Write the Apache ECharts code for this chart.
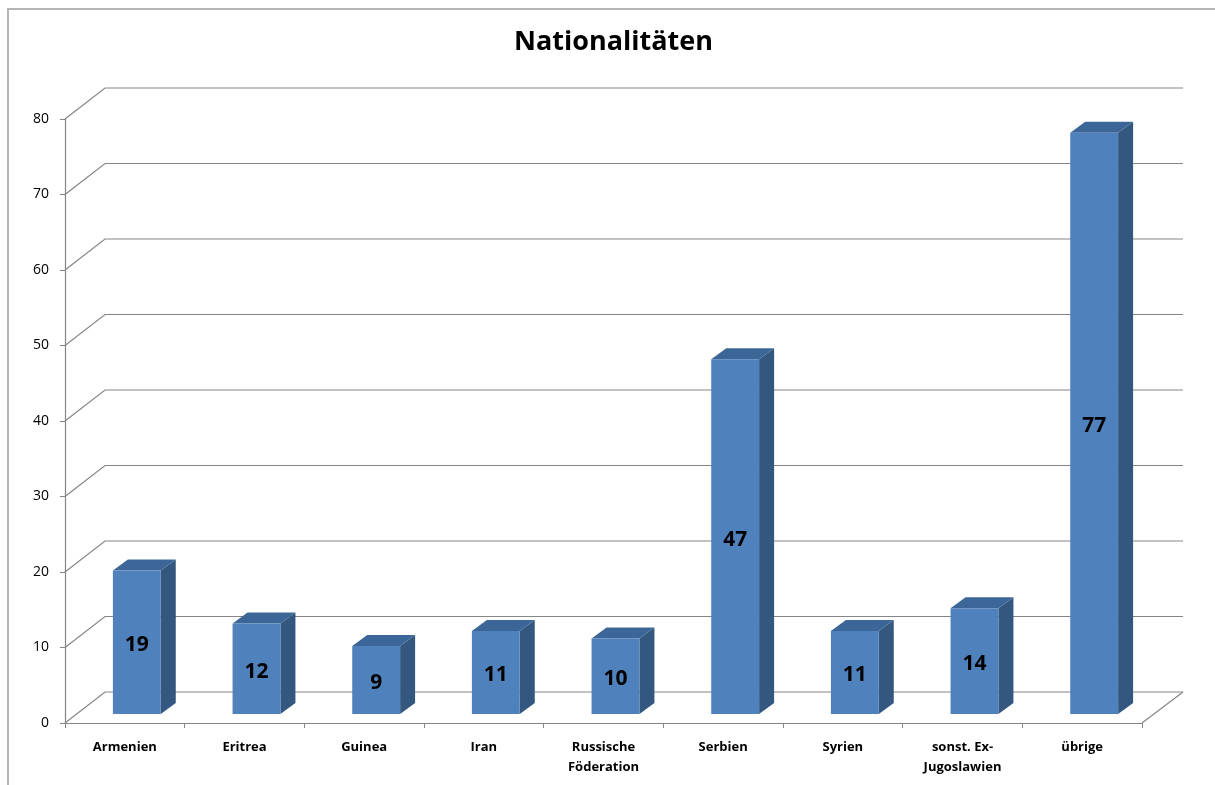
<!DOCTYPE html>
<html>
<head>
<meta charset="utf-8">
<script src="https://cdn.jsdelivr.net/npm/echarts@6/dist/echarts.min.js"></script>
<style>html,body{margin:0;padding:0;background:#fff}#chart{width:1215px;height:785px}</style>
</head>
<body>
<div id="chart"></div>
<script>
const categories = ['Armenien', 'Eritrea', 'Guinea', 'Iran', 'Russische\nFöderation', 'Serbien', 'Syrien', 'sonst. Ex-\nJugoslawien', 'übrige'];
const values = [19, 12, 9, 11, 10, 47, 11, 14, 77];
const yTicks = [0, 10, 20, 30, 40, 50, 60, 70, 80];

const FONT = '"Open Sans", "Liberation Sans", sans-serif';
// 3D projection offsets (pixels)
const WALL_DX = 40, WALL_DY = -31;
const BAR_OFF_DX = 12, BAR_OFF_DY = -9;
const BAR_DEP_DX = 15, BAR_DEP_DY = -11;
const GRID_COLOR = '#858585';

const chart = echarts.init(document.getElementById('chart'));

function renderGrid(params, api) {
  const v = api.value(0);
  const cs = params.coordSys;
  const p = api.coord([0, v]);
  const y = p[1];
  const x0 = cs.x, x1 = cs.x + cs.width;
  const children = [{
    type: 'polyline',
    shape: { points: [[x0, y], [x0 + WALL_DX, y + WALL_DY], [x1 + WALL_DX + 1, y + WALL_DY]] },
    style: { stroke: GRID_COLOR, lineWidth: 1.2, fill: null }
  }];
  if (v === 0) {
    children.push({
      type: 'line',
      shape: { x1: x1, y1: y, x2: x1 + WALL_DX + 1, y2: y + WALL_DY },
      style: { stroke: GRID_COLOR, lineWidth: 1.2 }
    });
  }
  return { type: 'group', children: children };
}

function renderBar(params, api) {
  const idx = api.value(0);
  const v = api.value(1);
  const base = api.coord([idx, 0]);
  const top = api.coord([idx, v]);
  const bandW = api.size([1, 0])[0];
  const w = bandW * 0.4;
  const xa = base[0] - w / 2 + BAR_OFF_DX;
  const xb = xa + w;
  const yt = top[1] + BAR_OFF_DY;
  const yb = base[1] + BAR_OFF_DY;
  return {
    type: 'group',
    children: [
      { type: 'polygon', shape: { points: [[xb, yt], [xb + BAR_DEP_DX, yt + BAR_DEP_DY], [xb + BAR_DEP_DX, yb + BAR_DEP_DY], [xb, yb]] },
        style: { fill: '#34577F' } },
      { type: 'polygon', shape: { points: [[xa, yt], [xb, yt], [xb + BAR_DEP_DX, yt + BAR_DEP_DY], [xa + BAR_DEP_DX, yt + BAR_DEP_DY]] },
        style: { fill: '#3C6698' } },
      { type: 'rect', shape: { x: xa, y: yt, width: w, height: yb - yt },
        style: { fill: '#4F81BD' } },
      { type: 'text', x: (xa + xb) / 2, y: (yt + yb) / 2 + 3,
        style: { text: String(v), fill: '#000', font: 'bold 21px ' + FONT, align: 'center', verticalAlign: 'middle' } }
    ]
  };
}

chart.setOption({
  animation: false,
  backgroundColor: '#fff',
  title: {
    text: 'Nationalitäten',
    left: 509,
    top: 24,
    textStyle: { fontFamily: FONT, fontWeight: 'bold', fontSize: 27, color: '#000' }
  },
  graphic: [{
    type: 'rect',
    shape: { x: 8, y: 9, width: 1240, height: 820 },
    style: { fill: null, stroke: '#B4B4B4', lineWidth: 2 },
    z: -1
  }],
  grid: { left: 65, right: 73, top: 119, bottom: 62 },
  xAxis: {
    type: 'category',
    data: categories,
    axisLine: { lineStyle: { color: GRID_COLOR, width: 1.2 } },
    axisTick: { show: true, length: 5, lineStyle: { color: GRID_COLOR } },
    axisLabel: { fontFamily: FONT, fontWeight: 'bold', fontSize: 13, color: '#000', margin: 14, lineHeight: 20, interval: 0 }
  },
  yAxis: {
    type: 'value',
    min: 0, max: 80, interval: 10,
    axisLine: { show: true, lineStyle: { color: GRID_COLOR, width: 1.2 } },
    axisTick: { show: true, length: 5, lineStyle: { color: GRID_COLOR } },
    splitLine: { show: false },
    axisLabel: { fontFamily: FONT, fontSize: 14, color: '#000', margin: 16 }
  },
  series: [
    {
      type: 'custom',
      renderItem: renderGrid,
      data: yTicks.map(t => [t]),
      encode: { y: 0 },
      z: 1,
      silent: true
    },
    {
      type: 'custom',
      renderItem: renderBar,
      data: values.map((v, i) => [i, v]),
      encode: { x: 0, y: 1 },
      z: 2
    }
  ]
});
</script>
</body>
</html>
